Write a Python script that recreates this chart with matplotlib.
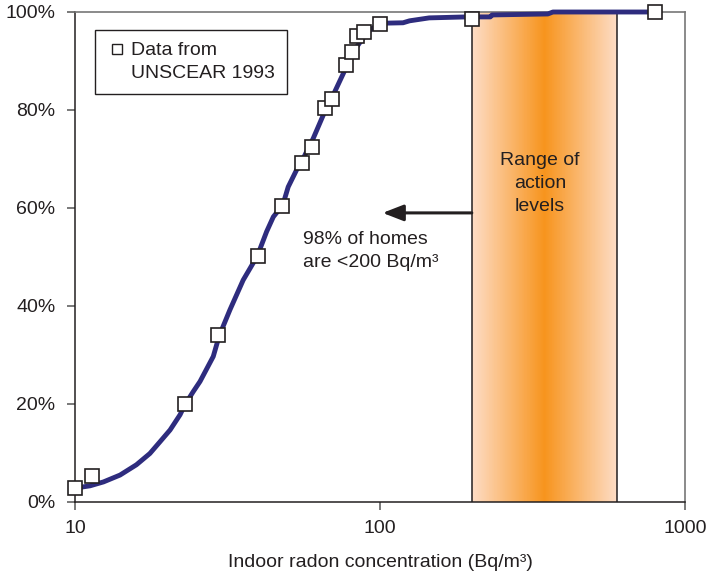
import numpy as np
import matplotlib
matplotlib.use('Agg')
import matplotlib.pyplot as plt
from matplotlib.colors import LinearSegmentedColormap
from matplotlib.lines import Line2D

plt.rcParams['font.family'] = ['Liberation Sans', 'DejaVu Sans']
plt.rcParams['font.size'] = 14

# UNSCEAR 1993 data points (Bq/m3, cumulative %)
data_x = [10, 11.4, 22.9, 29.4, 39.8, 47.7, 55.5, 59.8, 66.1, 69.7, 77.4, 81.0, 84.1, 88.7, 100, 200, 800]
data_y = [2.9, 5.3, 20.0, 34.1, 50.2, 60.4, 69.2, 72.4, 80.4, 82.2, 89.2, 91.8, 95.1, 95.9, 97.6, 98.6, 100]

# fitted curve
curve_x = [10, 10.4, 11.2, 12.4, 14.05, 15.9, 17.6, 19.0, 20.5, 22.1, 22.9, 24.4, 25.7,
           28.4, 29.7, 32.2, 35.6, 39.6, 42.5, 44.7, 48.0, 50.0, 53.3, 56.0, 60.4,
           65.2, 70.3, 76.8, 81.8, 87.1, 92.7, 100,
           119, 125, 138, 145, 193, 230, 233, 355, 369, 800]
curve_y = [2.7, 3.0, 3.3, 4.1, 5.5, 7.6, 9.9, 12.3, 14.7, 17.8, 19.8, 22.5, 24.6,
           29.7, 33.9, 39.2, 45.3, 50.2, 55.2, 58.2, 60.6, 64.3, 67.8, 70.1, 74.2,
           79.0, 83.1, 88.2, 91.9, 94.3, 96.3, 97.7,
           97.8, 98.2, 98.6, 98.8, 99.0, 99.0, 99.4, 99.6, 100, 100]

band_lo, band_hi = 200, 600
xticks = [10, 100, 1000]
yticks = [0, 20, 40, 60, 80, 100]

text_col = '#231f20'
line_col = '#2e2c7e'

fig = plt.figure(figsize=(7.08, 5.76), dpi=100)
ax = fig.add_axes([75/708, 1-502/576, 610/708, 490/576])
ax.set_xscale('log')
ax.set_xlim(10, 1000)
ax.set_ylim(0, 100)

# action level band with orange gradient
cmap = LinearSegmentedColormap.from_list('band', ['#fddcc5', '#f7941d', '#fddcc5'])
bx = np.logspace(np.log10(band_lo), np.log10(band_hi), 200)
bc = np.linspace(0, 1, 199).reshape(1, -1)
ax.pcolormesh(bx, [0, 100], bc, cmap=cmap, shading='flat', zorder=1)
ax.axvline(band_lo, color=text_col, lw=1.1, zorder=2)
ax.axvline(band_hi, color=text_col, lw=1.1, zorder=2)
ax.text(335, 65, 'Range of\naction\nlevels', ha='center', va='center',
        color=text_col, fontsize=14, linespacing=1.45, zorder=3)

# curve + data
ax.plot(curve_x, curve_y, color=line_col, lw=3.5, zorder=4, clip_on=False,
        solid_capstyle='butt', solid_joinstyle='round')
ax.plot(data_x, data_y, ls='none', marker='s', ms=9.5, mfc='white',
        mec=text_col, mew=1.2, zorder=5, clip_on=False)

# arrow + annotation
ax.annotate('', xy=(102, 59), xytext=(band_lo, 59),
            arrowprops=dict(arrowstyle='-|>,head_length=0.9,head_width=0.35',
                            color=text_col, lw=2.2, shrinkA=0, shrinkB=0), zorder=3)
ax.text(55.9, 51.3, '98% of homes\nare <200 Bq/m³', ha='left', va='center',
        color=text_col, fontsize=14, linespacing=1.45)

# legend
h1 = Line2D([], [], ls='none', marker='s', ms=6.5, mfc='white', mec=text_col, mew=1.0)
h2 = Line2D([], [], ls='none', marker='none')
leg = ax.legend([h1, h2], ['Data from', 'UNSCEAR 1993'], loc='upper left',
                bbox_to_anchor=(0.033, 0.963), borderaxespad=0, fancybox=False,
                edgecolor=text_col, framealpha=1, handlelength=1.0,
                handletextpad=0.25, labelspacing=0.28, borderpad=0.6, fontsize=14)
leg.get_frame().set_linewidth(1.0)
for t in leg.get_texts():
    t.set_color(text_col)

ax.set_xticks(xticks)
ax.set_xticklabels([str(v) for v in xticks])
ax.xaxis.set_minor_locator(matplotlib.ticker.NullLocator())
ax.set_yticks(yticks)
ax.set_yticklabels(['%d%%' % v for v in yticks])
ax.tick_params(axis='both', direction='out', length=6, width=1.1, colors='#555555',
               labelcolor=text_col, labelsize=14)
ax.tick_params(axis='y', pad=8)
ax.tick_params(axis='x', pad=7)
ax.set_xlabel('Indoor radon concentration (Bq/m³)', color=text_col, fontsize=14, labelpad=12)

for s in ['left', 'bottom']:
    ax.spines[s].set_color(text_col)
    ax.spines[s].set_linewidth(1.1)
for s in ['top', 'right']:
    ax.spines[s].set_color('#777777')
    ax.spines[s].set_linewidth(1.2)

fig.savefig('out.png', dpi=100)
